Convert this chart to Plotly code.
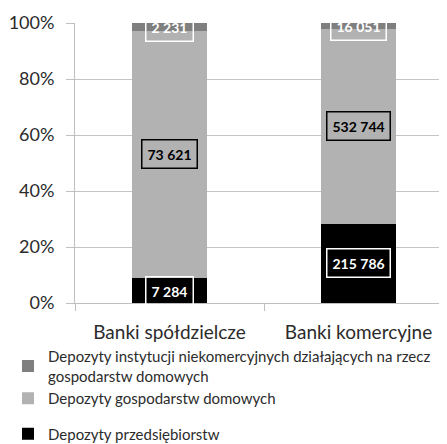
import plotly.graph_objects as go

categories = ["Banki spółdzielcze", "Banki komercyjne"]
series_names = [
    "Depozyty przedsiębiorstw",
    "Depozyty gospodarstw domowych",
    "Depozyty instytucji niekomercyjnych działających na rzecz<br>gospodarstw domowych",
]
przedsiebiorstw = [7284, 215786]
gospodarstw = [73621, 532744]
instytucji = [2231, 16051]
label_texts = [["7 284", "215 786"], ["73 621", "532 744"], ["2 231", "16 051"]]
y_ticks = [0, 20, 40, 60, 80, 100]
y_tick_labels = ["0%", "20%", "40%", "60%", "80%", "100%"]

values = [przedsiebiorstw, gospodarstw, instytucji]
colors = ["#000000", "#b2b2b2", "#7f7f7f"]
groups = ["g2", "g1", "g1"]
ranks = [3, 2, 1]
label_font_colors = ["#ffffff", "#000000", "#ffffff"]
label_border_colors = ["#ffffff", "#000000", "#ffffff"]

FONT = "Lato"
TXT = "#2b2b2b"
fig = go.Figure()
for name, vals, col, grp, rk in zip(series_names, values, colors, groups, ranks):
    fig.add_trace(go.Bar(
        x=categories, y=vals, name=name, marker=dict(color=col, line=dict(width=0)),
        width=0.4, legendgroup=grp, legendrank=rk,
    ))

# annotations at the middle of each stacked segment (computed from the data)
totals = [sum(v[i] for v in values) for i in range(len(categories))]
annotations = []
for i, cat in enumerate(categories):
    cum = 0.0
    for s, vals in enumerate(values):
        pct = vals[i] / totals[i] * 100
        mid = cum + pct / 2
        cum += pct
        annotations.append(dict(
            x=cat, y=mid, xref="x", yref="y", text="<b>%s</b>" % label_texts[s][i],
            showarrow=False, font=dict(family=FONT, size=14, color=label_font_colors[s]),
            bordercolor=label_border_colors[s], borderwidth=1.5, borderpad=5,
        ))

fig.update_layout(
    width=439, height=436,
    margin=dict(l=67, r=0, t=15, b=141, autoexpand=False),
    barmode="stack", barnorm="percent",
    plot_bgcolor="white", paper_bgcolor="white",
    font=dict(family=FONT, color=TXT),
    annotations=annotations,
    showlegend=True,
    legend=dict(
        xref="container", yref="container", x=0.0, y=1 - 332 / 436,
        xanchor="left", yanchor="top", traceorder="grouped",
        tracegroupgap=13, font=dict(family=FONT, size=15, color=TXT),
        bgcolor="rgba(0,0,0,0)", itemwidth=30,
    ),
    xaxis=dict(
        range=[-0.5, 1.468], tickson="boundaries", ticks="outside", ticklen=7,
        tickcolor="#bfbfbf", showline=True, linecolor="#bfbfbf", linewidth=1,
        tickfont=dict(family=FONT, size=19, color=TXT), showgrid=False,
        automargin=False, ticklabelstandoff=12,
    ),
    yaxis=dict(
        range=[0, 100], tickvals=y_ticks, ticktext=y_tick_labels, ticks="outside", ticklen=8,
        tickcolor="#bfbfbf", showline=True, linecolor="#bfbfbf", linewidth=1,
        gridcolor="#c4c4c4", gridwidth=1, zeroline=False,
        tickfont=dict(family=FONT, size=18, color=TXT), automargin=False,
        ticklabelstandoff=8,
    ),
)

fig.write_html("out.html")
